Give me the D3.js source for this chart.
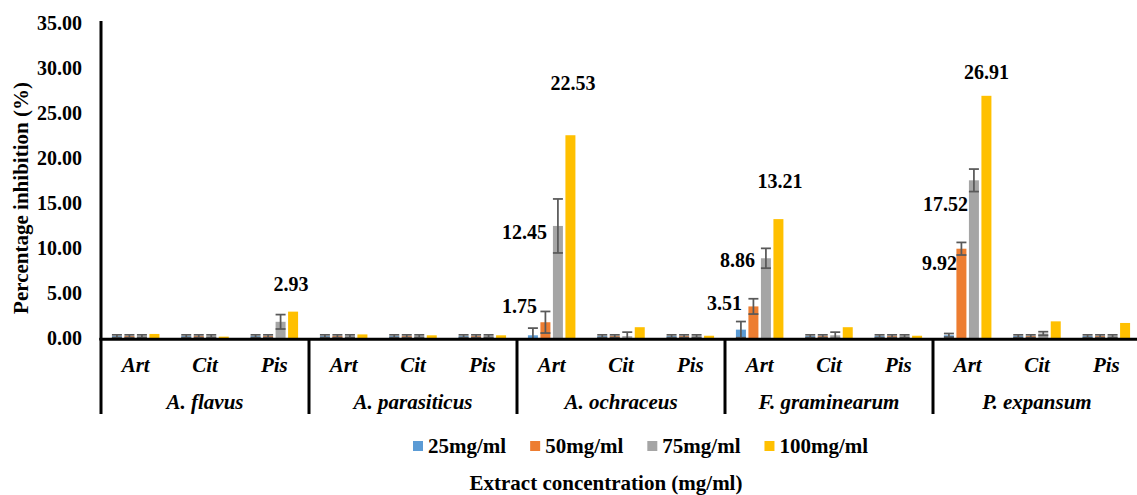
<!DOCTYPE html>
<html>
<head>
<meta charset="utf-8">
<script src="https://cdn.jsdelivr.net/npm/d3@7"></script>
<style>
  body { margin: 0; background: #fff; }
  svg text { font-family: 'Liberation Serif', Tinos, 'Times New Roman', Times, 'DejaVu Serif', 'Noto Serif', serif; font-weight: bold; }
</style>
</head>
<body>
<svg id="chart"></svg>
<script>
// fungi (outer categories) and extracts (inner categories)
const groups = ['A. flavus', 'A. parasiticus', 'A. ochraceus', 'F. graminearum', 'P. expansum'];
const extracts = ['Art', 'Cit', 'Pis'];
const series = ['25mg/ml', '50mg/ml', '75mg/ml', '100mg/ml'];

// values in group order, Art/Cit/Pis inside each group
const v25  = [0.2, 0.2, 0.2,   0.2, 0.2, 0.2,   0.3, 0.2, 0.2,    0.93, 0.2, 0.2,   0.3, 0.2, 0.2];
const v50  = [0.2, 0.2, 0.2,   0.2, 0.2, 0.2,   1.75, 0.2, 0.2,   3.51, 0.2, 0.2,   9.92, 0.2, 0.2];
const v75  = [0.2, 0.2, 1.8,   0.2, 0.2, 0.2,   12.45, 0.2, 0.2,  8.86, 0.3, 0.2,   17.52, 0.5, 0.2];
const v100 = [0.45, 0.15, 2.93, 0.4, 0.3, 0.3,  22.53, 1.2, 0.25, 13.21, 1.2, 0.25, 26.91, 1.85, 1.67];

// standard errors (100mg/ml has none)
const e25  = [0.15, 0.15, 0.15, 0.15, 0.15, 0.15, 0.8, 0.15, 0.15,  0.9, 0.15, 0.15,  0.2, 0.15, 0.15];
const e50  = [0.15, 0.15, 0.15, 0.15, 0.15, 0.15, 1.2, 0.15, 0.15,  0.85, 0.15, 0.15, 0.7, 0.15, 0.15];
const e75  = [0.15, 0.15, 0.8,  0.15, 0.15, 0.15, 3.0, 0.45, 0.15,  1.1, 0.35, 0.15,  1.25, 0.2, 0.15];
const e100 = [0, 0, 0, 0, 0, 0, 0, 0, 0, 0, 0, 0, 0, 0, 0];

const yTicks = [0, 5, 10, 15, 20, 25, 30, 35];

// bars that carry a data label: [series index, position index]
const labelled = [[3, 2], [1, 6], [2, 6], [3, 6], [1, 9], [2, 9], [3, 9], [1, 12], [2, 12], [3, 12]];

const colors = ['#5B9BD5', '#ED7D31', '#A5A5A5', '#FFC000'];
const errColor = '#595959';
const FONT = "'Liberation Serif', Tinos, 'Times New Roman', Times, 'DejaVu Serif', 'Noto Serif', serif";

const W = 1137, H = 495;
const svg = d3.select('#chart').attr('width', W).attr('height', H);

const values = [v25, v50, v75, v100];
const errors = [e25, e50, e75, e100];

const rows = [];
series.forEach((s, si) => {
  groups.forEach((g, gi) => {
    extracts.forEach((e, ei) => {
      const i = gi * extracts.length + ei;
      rows.push({ s, si, g, e, i, v: values[si][i], err: errors[si][i] });
    });
  });
});

const left = 101, right = 1141, base = 338;

const x0 = d3.scaleBand().domain(groups).range([left, right]);
const xs = d3.scaleBand().domain(extracts).range([0, x0.bandwidth()]);
const x1 = d3.scaleBand().domain(series).range([-25, 25]).paddingInner(0.2).paddingOuter(0.1);
const y = d3.scaleLinear().domain([0, 35]).range([base, 23]);

const subCenter = d => x0(d.g) + xs(d.e) + xs.bandwidth() / 2;
const barX = d => subCenter(d) + x1(d.s);

// y axis labels
const yAxis = d3.axisLeft(y).tickValues(yTicks).tickSize(0).tickPadding(19).tickFormat(d3.format('.2f'));
const ya = svg.append('g').attr('transform', `translate(${left},0)`).call(yAxis)
  .attr('font-family', FONT).attr('font-size', 20);
ya.select('.domain').remove();
ya.selectAll('text')
  .attr('font-weight', 'bold')
  .attr('fill', '#000');

// clip for error bars (plot area)
svg.append('clipPath').attr('id', 'plot')
  .append('rect').attr('x', left).attr('y', 0).attr('width', W - left).attr('height', base);

// bars
svg.append('g').selectAll('rect')
  .data(rows)
  .enter()
  .append('rect')
  .attr('x', barX)
  .attr('y', d => y(d.v))
  .attr('width', x1.bandwidth())
  .attr('height', d => y(0) - y(d.v))
  .attr('fill', d => colors[d.si]);

// error bars
const eg = svg.append('g').attr('clip-path', 'url(#plot)')
  .attr('stroke', errColor).attr('stroke-width', 1.75).attr('fill', 'none');
const withErr = rows.filter(d => d.err > 0);
eg.selectAll('.stem').data(withErr).enter().append('line')
  .attr('x1', d => barX(d) + x1.bandwidth() / 2)
  .attr('x2', d => barX(d) + x1.bandwidth() / 2)
  .attr('y1', d => y(d.v + d.err))
  .attr('y2', d => y(d.v - d.err));
eg.selectAll('.capHi').data(withErr).enter().append('line')
  .attr('x1', d => barX(d)).attr('x2', d => barX(d) + x1.bandwidth())
  .attr('y1', d => y(d.v + d.err)).attr('y2', d => y(d.v + d.err));
eg.selectAll('.capLo').data(withErr).enter().append('line')
  .attr('x1', d => barX(d)).attr('x2', d => barX(d) + x1.bandwidth())
  .attr('y1', d => y(d.v - d.err)).attr('y2', d => y(d.v - d.err));

// data labels: the chart has them dragged by hand, so offsets are kept here
// [anchor, dx from bar edge/centre, dy from bar top]
const labelLayout = [
  ['middle', -2, -28],
  ['end', -3.5, -16],
  ['end', -6, 6],
  ['middle', 2.5, -52],
  ['end', -6.5, -3],
  ['end', -6, 2],
  ['middle', 1.5, -38],
  ['end', 0.5, 14],
  ['end', -1, 24],
  ['middle', 0, -24]
];
svg.append('g').selectAll('text')
  .data(labelled)
  .enter()
  .append('text')
  .each(function(l, k) {
    const d = rows.find(r => r.si === l[0] && r.i === l[1]);
    const lay = labelLayout[k];
    const bx = lay[0] === 'middle' ? barX(d) + x1.bandwidth() / 2 : barX(d);
    d3.select(this)
      .attr('x', bx + lay[1])
      .attr('y', y(d.v) + lay[2])
      .attr('dy', '0.35em')
      .attr('text-anchor', lay[0])
      .attr('font-size', 20)
      .text(d3.format('.2f')(d.v));
  });

// axes lines
svg.append('line')
  .attr('x1', left).attr('x2', left).attr('y1', 21).attr('y2', 340)
  .attr('stroke', '#000').attr('stroke-width', 3);
svg.append('line')
  .attr('x1', left - 1.5).attr('x2', W).attr('y1', base + 1.2).attr('y2', base + 1.2)
  .attr('stroke', '#000').attr('stroke-width', 3);

// group dividers
svg.append('g').selectAll('line')
  .data(groups.concat(['end']))
  .enter()
  .append('line')
  .attr('x1', (d, i) => i < groups.length ? x0(d) : right)
  .attr('x2', (d, i) => i < groups.length ? x0(d) : right)
  .attr('y1', base).attr('y2', 414)
  .attr('stroke', '#000').attr('stroke-width', 3);

// extract labels
const subs = [];
groups.forEach(g => extracts.forEach(e => subs.push({ g, e })));
svg.append('g').selectAll('text')
  .data(subs)
  .enter()
  .append('text')
  .attr('x', subCenter)
  .attr('y', 365)
  .attr('dy', '0.35em')
  .attr('text-anchor', 'middle')
  .attr('font-style', 'italic')
  .attr('font-size', 21)
  .text(d => d.e);

// fungus labels
svg.append('g').selectAll('text')
  .data(groups)
  .enter()
  .append('text')
  .attr('x', d => x0(d) + x0.bandwidth() / 2)
  .attr('y', 402)
  .attr('dy', '0.35em')
  .attr('text-anchor', 'middle')
  .attr('font-style', 'italic')
  .attr('font-size', 21)
  .text(d => d);

// axis titles
svg.append('text')
  .attr('transform', 'translate(21,198) rotate(-90)')
  .attr('dy', '0.35em')
  .attr('text-anchor', 'middle')
  .attr('font-size', 21)
  .text('Percentage inhibition (%)');

svg.append('text')
  .attr('x', 606)
  .attr('y', 483)
  .attr('dy', '0.35em')
  .attr('text-anchor', 'middle')
  .attr('font-size', 21)
  .text('Extract concentration (mg/ml)');

// legend
let lx = 413;
series.forEach((s, i) => {
  const g = svg.append('g').attr('class', 'legend');
  g.append('rect')
    .attr('x', lx).attr('y', 441)
    .attr('width', 10).attr('height', 10)
    .attr('fill', colors[i]);
  const t = g.append('text')
    .attr('x', lx + 15).attr('y', 446)
    .attr('dy', '0.35em')
    .attr('font-size', 21)
    .text(s);
  lx += 15 + t.node().getComputedTextLength() + 24;
});
</script>
</body>
</html>
